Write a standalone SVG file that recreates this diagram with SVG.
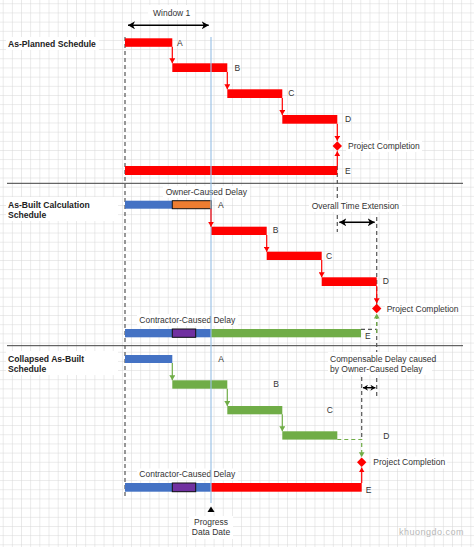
<svg xmlns="http://www.w3.org/2000/svg" width="474" height="547" viewBox="0 0 474 547">
<style>
.t{font-family:"Liberation Sans",Arial,sans-serif;font-size:8.5px;fill:#333}
.h{font-family:"Liberation Sans",Arial,sans-serif;font-size:8.6px;font-weight:bold;fill:#222}
.bg{fill:#fff}
.red{fill:#ff0000}
.blue{fill:#4472c4}
.green{fill:#70ad47}
.orange{fill:#ed7d31;stroke:#111;stroke-width:1}
.purple{fill:#7030a0;stroke:#111;stroke-width:1}
.cr{stroke:#ff0000;stroke-width:1.2;fill:none;marker-end:url(#ar)}
.cg{stroke:#70ad47;stroke-width:1.2;fill:none;marker-end:url(#ag)}
.cgd{stroke:#70ad47;stroke-width:1.2;fill:none;stroke-dasharray:4 3}
.dash{stroke:#555;stroke-width:1.2;fill:none;stroke-dasharray:4 3}
.dbl{stroke:#000;stroke-width:1.6;fill:none;marker-start:url(#ak);marker-end:url(#ak)}
.dbs{stroke:#000;stroke-width:1.4;fill:none;marker-start:url(#aks);marker-end:url(#aks)}
.sep{stroke:#404040;stroke-width:1}
</style>
<defs>
<pattern id="grid" patternUnits="userSpaceOnUse" x="2.7" y="3.3" width="9.17" height="9.17">
<path d="M0,0 H9.17 M0,0 V9.17" stroke="#d6d6d6" stroke-width="1" fill="none"/>
</pattern>
<marker id="ar" markerUnits="userSpaceOnUse" markerWidth="6" markerHeight="6" refX="5" refY="3" orient="auto"><path d="M0,0 L5,3 L0,6 z" fill="#ff0000"/></marker>
<marker id="ag" markerUnits="userSpaceOnUse" markerWidth="6" markerHeight="6" refX="5" refY="3" orient="auto"><path d="M0,0 L5,3 L0,6 z" fill="#70ad47"/></marker>
<marker id="ak" markerUnits="userSpaceOnUse" markerWidth="8" markerHeight="8" refX="7" refY="4" orient="auto-start-reverse"><path d="M0,0 L7,4 L0,8 L2,4 z" fill="#000"/></marker>
<marker id="aks" markerUnits="userSpaceOnUse" markerWidth="6" markerHeight="6" refX="5" refY="3" orient="auto-start-reverse"><path d="M0,0 L5,3 L0,6 L1.5,3 z" fill="#000"/></marker>
</defs>
<rect width="474" height="547" fill="#fff"/>
<rect width="474" height="547" fill="url(#grid)"/>

<g id="separators">
<line class="sep" x1="7" y1="183.3" x2="463" y2="183.3"/>
<line class="sep" x1="7" y1="345.7" x2="463" y2="345.7"/>
</g>

<g id="titles">
<rect class="bg" x="6" y="37" width="93" height="13"/>
<text class="h" x="8" y="46.5">As-Planned Schedule</text>
<rect class="bg" x="6" y="197" width="112" height="24"/>
<text class="h" x="8" y="207.5">As-Built Calculation</text>
<text class="h" x="8" y="217.5">Schedule</text>
<rect class="bg" x="6" y="351" width="112" height="24"/>
<text class="h" x="8" y="361.5">Collapsed As-Built</text>
<text class="h" x="8" y="371.5">Schedule</text>
</g>

<g id="guides">
<line class="dash" x1="125" y1="37" x2="125" y2="497"/>
<line class="dash" x1="337.3" y1="166" x2="337.3" y2="232"/>
<line class="dash" x1="376.7" y1="217" x2="376.7" y2="398"/>
<line class="dash" x1="361.7" y1="377" x2="361.7" y2="439"/>
<line class="dash" x1="361" y1="329.3" x2="377" y2="329.3"/>
</g>

<g id="window1">
<rect class="bg" x="148" y="5" width="47" height="15"/>
<text class="t" x="171.7" y="15.7" text-anchor="middle">Window 1</text>
</g>

<g id="planned">
<g id="p-A"><rect class="red" x="125" y="38.3" width="47.3" height="8.5"/><text class="t" x="177" y="46">A</text></g>
<g id="p-B"><rect class="red" x="172.3" y="63.3" width="55" height="8.7"/><text class="t" x="234.5" y="70.7">B</text></g>
<g id="p-C"><rect class="red" x="227.3" y="89.3" width="55" height="8.7"/><text class="t" x="288.3" y="96.3">C</text></g>
<g id="p-D"><rect class="red" x="282.3" y="115" width="55" height="8.7"/><text class="t" x="345" y="122">D</text></g>
<g id="p-E"><rect class="red" x="125" y="166" width="212.3" height="9"/><text class="t" x="345" y="174">E</text></g>
<g id="p-PC"><path class="red" d="M337.3,141.3 L342,146 L337.3,150.7 L332.6,146 z"/><rect class="bg" x="346" y="140" width="76" height="12"/><text class="t" x="348" y="149">Project Completion</text></g>
</g>

<g id="asbuilt">
<g id="b-ocd"><rect class="bg" x="163" y="186" width="87" height="12"/><text class="t" x="206.3" y="195.3" text-anchor="middle">Owner-Caused Delay</text></g>
<g id="b-A"><rect class="blue" x="125" y="200.7" width="47.3" height="8"/><rect class="orange" x="172.3" y="200.7" width="39" height="8"/><text class="t" x="218" y="208">A</text></g>
<g id="b-B"><rect class="red" x="211" y="226.7" width="55.7" height="8.3"/><text class="t" x="272.7" y="233">B</text></g>
<g id="b-C"><rect class="red" x="266.7" y="251.7" width="55" height="8.3"/><text class="t" x="326" y="259">C</text></g>
<g id="b-D"><rect class="red" x="321.7" y="277.3" width="55" height="8.7"/><text class="t" x="382.7" y="284">D</text></g>
<g id="b-ote"><rect class="bg" x="309" y="200" width="93" height="12"/><text class="t" x="311.7" y="209">Overall Time Extension</text></g>
<g id="b-PC"><path class="red" d="M376.7,303.8 L381.4,308.5 L376.7,313.2 L372,308.5 z"/><rect class="bg" x="385" y="303" width="76" height="12"/><text class="t" x="386.7" y="312">Project Completion</text></g>
<g id="b-ccd"><rect class="bg" x="137" y="314" width="101" height="12"/><text class="t" x="139.3" y="323">Contractor-Caused Delay</text></g>
<g id="b-E"><rect class="blue" x="125" y="329" width="86" height="8.3"/><rect class="purple" x="172.3" y="329" width="23.4" height="8.3"/><rect class="green" x="211" y="329" width="150" height="8.3"/><rect class="bg" x="363.5" y="331" width="9" height="10"/><text class="t" x="365" y="338.5">E</text></g>
</g>

<g id="collapsed">
<g id="c-A"><rect class="blue" x="125" y="355" width="47.3" height="8"/><text class="t" x="218.3" y="362">A</text></g>
<g id="c-B"><rect class="green" x="172.3" y="380.3" width="55" height="8.4"/><text class="t" x="273.3" y="387.3">B</text></g>
<g id="c-C"><rect class="green" x="227.3" y="406" width="55" height="8.3"/><text class="t" x="326.7" y="413">C</text></g>
<g id="c-D"><rect class="green" x="282.3" y="431.3" width="55" height="8.3"/><text class="t" x="383.3" y="438.5">D</text></g>
<g id="c-comp"><rect class="bg" x="328" y="352" width="104" height="23"/><text class="t" x="330" y="362">Compensable Delay caused</text><text class="t" x="330" y="372">by Owner-Caused Delay</text></g>
<g id="c-PC"><path class="red" d="M361.7,457.6 L366.4,462.3 L361.7,467 L357,462.3 z"/><rect class="bg" x="371" y="456.5" width="76" height="12"/><text class="t" x="373.3" y="465.3">Project Completion</text></g>
<g id="c-ccd"><rect class="bg" x="137" y="468.5" width="101" height="12"/><text class="t" x="139.3" y="477.3">Contractor-Caused Delay</text></g>
<g id="c-E"><rect class="blue" x="125" y="483" width="86" height="8.7"/><rect class="purple" x="172.3" y="483" width="23.4" height="8.7"/><rect class="red" x="211" y="483" width="150.7" height="8.7"/><text class="t" x="365.7" y="493">E</text></g>
</g>

<g id="datadate">
<line x1="211" y1="37" x2="211" y2="503" stroke="#9dc3e6" stroke-width="1.3" opacity="0.9"/>
<path d="M211,506.5 L214.5,512 L207.5,512 z" fill="#000"/>
<rect class="bg" x="189" y="516" width="44" height="23"/>
<text class="t" x="211" y="525.3" text-anchor="middle">Progress</text>
<text class="t" x="211" y="535.3" text-anchor="middle">Data Date</text>
</g>

<g id="connectors">
<line class="dbl" x1="128" y1="25.3" x2="208.7" y2="25.3"/>
<line class="dbl" x1="339.3" y1="222.3" x2="374.7" y2="222.3"/>
<line class="dbs" x1="363" y1="387.7" x2="375.4" y2="387.7"/>
<line class="cr" x1="172.3" y1="46.8" x2="172.3" y2="63.3"/>
<line class="cr" x1="227.3" y1="72" x2="227.3" y2="89.3"/>
<line class="cr" x1="282.3" y1="98" x2="282.3" y2="115"/>
<line class="cr" x1="337.3" y1="123.7" x2="337.3" y2="140.8"/>
<line class="cr" x1="337.3" y1="166" x2="337.3" y2="151.2"/>
<line class="cr" x1="211" y1="208.7" x2="211" y2="226.7"/>
<line class="cr" x1="266.7" y1="235" x2="266.7" y2="251.7"/>
<line class="cr" x1="321.7" y1="260" x2="321.7" y2="277.3"/>
<line class="cr" x1="376.7" y1="286" x2="376.7" y2="303.3"/>
<path class="cgd" d="M376.7,333 V316"/>
<path d="M373.9,318.5 L376.7,313.5 L379.5,318.5 z" fill="#70ad47"/>
<line class="cg" x1="172.3" y1="363" x2="172.3" y2="380.3"/>
<line class="cg" x1="227.3" y1="388.7" x2="227.3" y2="406"/>
<line class="cg" x1="282.3" y1="414.3" x2="282.3" y2="431.3"/>
<path class="cgd" d="M337.3,439.5 H361.7 V454"/>
<path d="M358.9,452.3 L361.7,457.3 L364.5,452.3 z" fill="#70ad47"/>
<line class="cr" x1="361.7" y1="483" x2="361.7" y2="467.4"/>
</g>

<text x="399" y="535" style="font-family:'Liberation Sans',Arial,sans-serif;font-size:9px;letter-spacing:0.5px;fill:#b8b8b8">khuongdo.com</text>
</svg>
